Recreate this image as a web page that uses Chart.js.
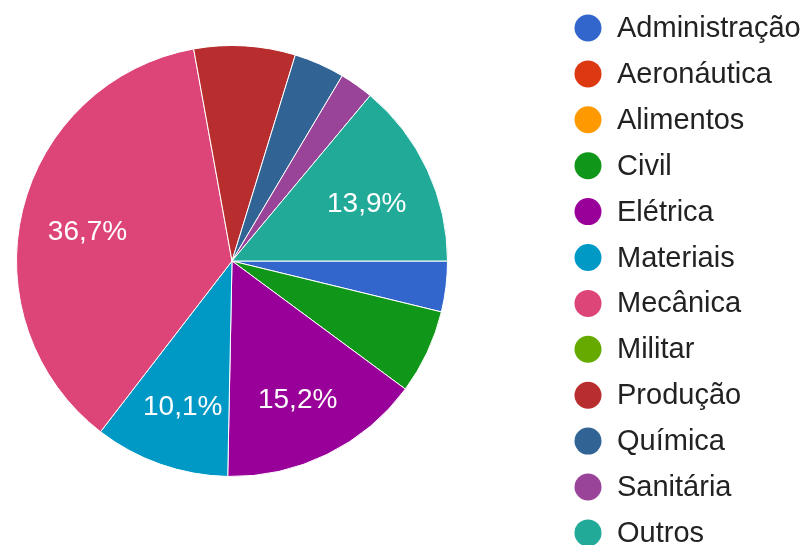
<!DOCTYPE html>
<html>
<head>
<meta charset="utf-8">
<script src="https://cdn.jsdelivr.net/npm/chart.js@4.4.1/dist/chart.umd.min.js"></script>
<style>
  html, body { margin: 0; padding: 0; background: #fff; }
  #wrap { position: relative; width: 809px; height: 545px; }
</style>
</head>
<body>
<div id="wrap"><canvas id="pie" width="809" height="545"></canvas></div>
<script>
// answers per course (79 in total)
const categories = ['Administração', 'Aeronáutica', 'Alimentos', 'Civil', 'Elétrica', 'Materiais',
  'Mecânica', 'Militar', 'Produção', 'Química', 'Sanitária', 'Outros'];
const counts = [3, 0, 0, 5, 12, 8, 29, 0, 6, 3, 2, 11];
const colors = ['#3366cc', '#dc3912', '#ff9900', '#109618', '#990099', '#0099c6',
  '#dd4477', '#66aa00', '#b82e2e', '#316395', '#994499', '#22aa99'];

const FONT = '"Liberation Sans", Arial, sans-serif';

// percent labels inside the bigger slices
const sliceLabels = {
  id: 'sliceLabels',
  afterDatasetsDraw(chart) {
    const ctx = chart.ctx;
    const meta = chart.getDatasetMeta(0);
    const total = counts.reduce((a, b) => a + b, 0);
    ctx.save();
    ctx.fillStyle = '#ffffff';
    ctx.font = '28px ' + FONT;
    ctx.textAlign = 'center';
    ctx.textBaseline = 'middle';
    meta.data.forEach((arc, i) => {
      const pct = counts[i] / total * 100;
      if (pct < 10) return;
      const mid = (arc.startAngle + arc.endAngle) / 2;
      const r = arc.outerRadius * 0.69;
      const txt = pct.toFixed(1).replace('.', ',') + '%';
      ctx.fillText(txt, arc.x + Math.cos(mid) * r, arc.y + Math.sin(mid) * r + 6);
    });
    ctx.restore();
  }
};

// legend on the right, one row per course
const sideLegend = {
  id: 'sideLegend',
  afterDraw(chart) {
    const ctx = chart.ctx;
    ctx.save();
    ctx.font = '29px ' + FONT;
    ctx.textBaseline = 'middle';
    categories.forEach((name, i) => {
      const y = 28 + i * 45.9;
      ctx.fillStyle = colors[i];
      ctx.beginPath();
      ctx.arc(588, y, 13.5, 0, Math.PI * 2);
      ctx.fill();
      ctx.fillStyle = '#222222';
      ctx.fillText(name, 617, y + 1);
    });
    ctx.restore();
  }
};

new Chart(document.getElementById('pie'), {
  type: 'pie',
  data: {
    labels: categories,
    datasets: [{
      data: counts,
      backgroundColor: colors,
      borderColor: '#ffffff',
      borderWidth: 1
    }]
  },
  options: {
    responsive: false,
    animation: false,
    rotation: 90,
    layout: { padding: { left: 16, right: 361, top: 45, bottom: 68 } },
    plugins: {
      legend: { display: false },
      tooltip: { enabled: false }
    }
  },
  plugins: [sliceLabels, sideLegend]
});
</script>
</body>
</html>
